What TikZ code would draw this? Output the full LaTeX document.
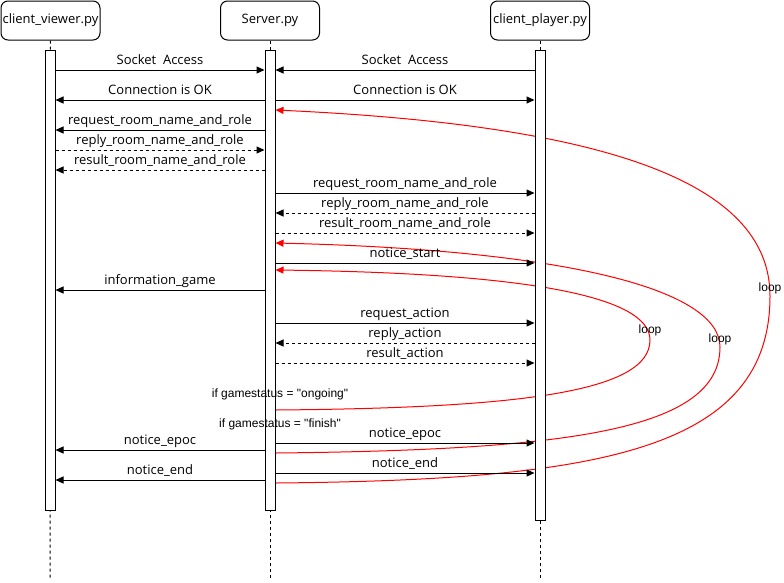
\documentclass[tikz,border=0pt]{standalone}
\usepackage{fontspec}
\setmainfont{Open Sans}
\newfontfamily\condfont{Liberation Sans}
\usetikzlibrary{arrows.meta,backgrounds}

\begin{document}
\begin{tikzpicture}[x=1pt,y=-1pt,line width=1pt]
  \tikzstyle{HeadStyle}=[draw,rounded corners=7pt,minimum width=99pt,minimum height=39pt,inner sep=0pt,font=\fontsize{13}{15}\selectfont]
  \tikzstyle{BarStyle}=[draw,fill=white,minimum width=10pt,inner sep=0pt,anchor=north]
  \tikzstyle{LifeStyle}=[dash pattern=on 3pt off 3pt]
  \tikzstyle{MsgStyle}=[-{Triangle[length=8pt,width=7pt]}]
  \tikzstyle{RetStyle}=[MsgStyle,dash pattern=on 3pt off 3pt]
  \tikzstyle{LoopStyle}=[red,line width=1pt,-{Triangle[length=8pt,width=7pt]}]
  \tikzstyle{LabelStyle}=[above,inner sep=2pt,text height=9pt,text depth=3pt,font=\fontsize{13}{15}\selectfont]
  \tikzstyle{CondStyle}=[inner sep=0pt,font=\condfont\fontsize{12}{14}\selectfont]
  \useasboundingbox (0,0) rectangle (784,582);
  % participants
  \node[HeadStyle] (viewer) at (50.5,20.5) {client\_viewer.py};
  \node[HeadStyle] (server) at (270,20.5) {Server.py};
  \node[HeadStyle] (player) at (540,20.5) {client\_player.py};
  \draw[LifeStyle] (viewer.south) -- (50,578);
  \draw[LifeStyle] (server.south) -- (270,578);
  \draw[LifeStyle] (player.south) -- (540,578);
  \node[BarStyle,minimum height=460pt] (vbar) at (50,50) {};
  \node[BarStyle,minimum height=460pt] (sbar) at (270,50) {};
  \node[BarStyle,minimum height=470pt] (pbar) at (540,50) {};
  % loops
  \begin{scope}[on background layer]
    \draw[LoopStyle] (sbar.east |- 0,410) .. controls (520,408) and (650,392) .. (650,340)
      .. controls (650,295) and (520,273) .. (sbar.east |- 0,270);
    \draw[LoopStyle] (sbar.east |- 0,453) .. controls (570,450) and (720,430) .. (720,347)
      .. controls (720,290) and (570,250) .. (sbar.east |- 0,243);
    \draw[LoopStyle] (sbar.east |- 0,483) .. controls (600,480) and (770,450) .. (770,296)
      .. controls (770,180) and (600,125) .. (sbar.east |- 0,110);
  \end{scope}
  \node[CondStyle] (loopa) at (650,330) {loop};
  \node[CondStyle] (loopb) at (720,339) {loop};
  \node[CondStyle] (loopc) at (770,288) {loop};
  % connection
  \draw[MsgStyle] (vbar.east |- 0,70) -- node[LabelStyle]{Socket\ \ Access} (sbar.west |- 0,70);
  \draw[MsgStyle] (pbar.west |- 0,70) -- node[LabelStyle]{Socket\ \ Access} (sbar.east |- 0,70);
  \draw[MsgStyle] (sbar.west |- 0,100) -- node[LabelStyle]{Connection is OK} (vbar.east |- 0,100);
  \draw[MsgStyle] (sbar.east |- 0,100) -- node[LabelStyle]{Connection is OK} (pbar.west |- 0,100);
  % room and role
  \draw[MsgStyle] (sbar.west |- 0,130) -- node[LabelStyle]{request\_room\_name\_and\_role} (vbar.east |- 0,130);
  \draw[RetStyle] (vbar.east |- 0,150) -- node[LabelStyle]{reply\_room\_name\_and\_role} (sbar.west |- 0,150);
  \draw[RetStyle] (sbar.west |- 0,170) -- node[LabelStyle]{result\_room\_name\_and\_role} (vbar.east |- 0,170);
  \draw[MsgStyle] (sbar.east |- 0,193) -- node[LabelStyle]{request\_room\_name\_and\_role} (pbar.west |- 0,193);
  \draw[RetStyle] (pbar.west |- 0,213) -- node[LabelStyle]{reply\_room\_name\_and\_role} (sbar.east |- 0,213);
  \draw[RetStyle] (sbar.east |- 0,233) -- node[LabelStyle]{result\_room\_name\_and\_role} (pbar.west |- 0,233);
  % game
  \draw[MsgStyle] (sbar.east |- 0,263) -- node[LabelStyle]{notice\_start} (pbar.west |- 0,263);
  \draw[MsgStyle] (sbar.west |- 0,290) -- node[LabelStyle]{information\_game} (vbar.east |- 0,290);
  \draw[MsgStyle] (sbar.east |- 0,323) -- node[LabelStyle]{request\_action} (pbar.west |- 0,323);
  \draw[RetStyle] (pbar.west |- 0,343) -- node[LabelStyle]{reply\_action} (sbar.east |- 0,343);
  \draw[RetStyle] (sbar.east |- 0,363) -- node[LabelStyle]{result\_action} (pbar.west |- 0,363);
  \node[CondStyle] (ongoing) at (280,394) {if gamestatus = "ongoing"};
  \node[CondStyle] (finish) at (280,424) {if gamestatus = "finish"};
  % end
  \draw[MsgStyle] (sbar.east |- 0,443) -- node[LabelStyle]{notice\_epoc} (pbar.west |- 0,443);
  \draw[MsgStyle] (sbar.west |- 0,450) -- node[LabelStyle]{notice\_epoc} (vbar.east |- 0,450);
  \draw[MsgStyle] (sbar.east |- 0,473) -- node[LabelStyle]{notice\_end} (pbar.west |- 0,473);
  \draw[MsgStyle] (sbar.west |- 0,480) -- node[LabelStyle]{notice\_end} (vbar.east |- 0,480);
\end{tikzpicture}
\end{document}
